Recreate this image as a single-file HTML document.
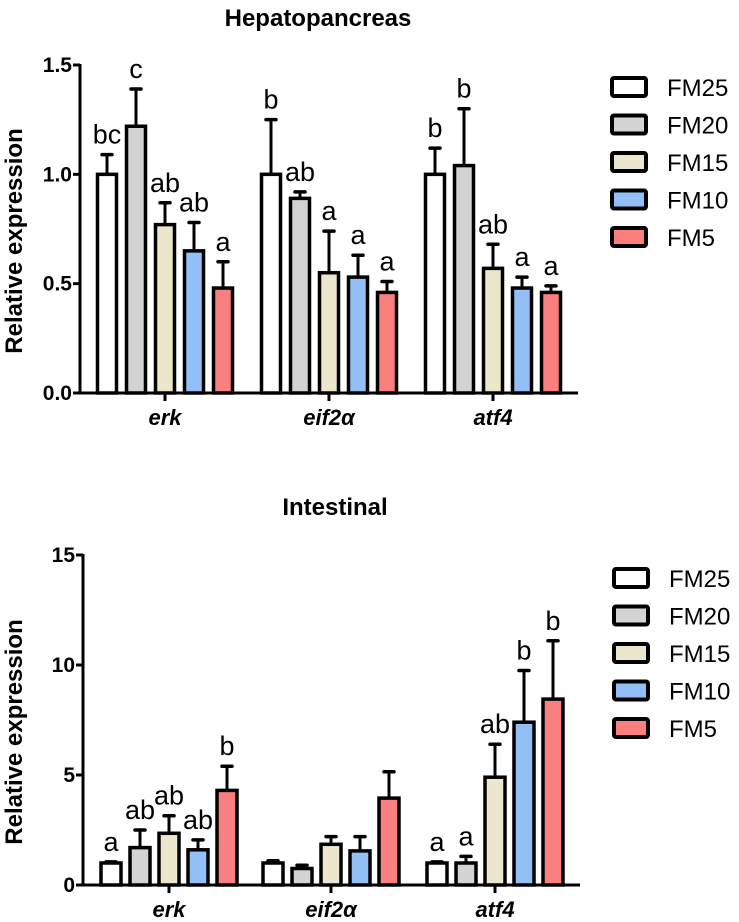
<!DOCTYPE html>
<html><head><meta charset="utf-8"><style>
body{margin:0;background:#fff;}
svg{display:block;font-family:"Liberation Sans",Arial,sans-serif;}
</style></head><body>
<svg id="fig" width="739" height="922" viewBox="0 0 739 922" xmlns="http://www.w3.org/2000/svg"></svg>
<script>
const genes = ["erk", "eif2α", "atf4"];
const groups = ["FM25", "FM20", "FM15", "FM10", "FM5"];
const colors = ["#ffffff", "#d3d3d3", "#ece6cc", "#92bff5", "#fa7f7f"];
const hepMeans = [[1.0, 1.22, 0.77, 0.65, 0.48], [1.0, 0.89, 0.55, 0.53, 0.46], [1.0, 1.04, 0.57, 0.48, 0.46]];
const hepErrs = [[0.09, 0.17, 0.10, 0.13, 0.12], [0.25, 0.03, 0.19, 0.10, 0.05], [0.12, 0.26, 0.11, 0.05, 0.03]];
const hepLetters = [["bc", "c", "ab", "ab", "a"], ["b", "ab", "a", "a", "a"], ["b", "b", "ab", "a", "a"]];
const hepTicks = [0, 0.5, 1.0, 1.5];
const hepTickLabels = ["0.0", "0.5", "1.0", "1.5"];
const intMeans = [[1.0, 1.7, 2.35, 1.6, 4.3], [1.0, 0.75, 1.85, 1.55, 3.95], [1.0, 1.0, 4.9, 7.4, 8.45]];
const intErrs = [[0.05, 0.8, 0.8, 0.45, 1.1], [0.1, 0.15, 0.35, 0.65, 1.2], [0.05, 0.3, 1.5, 2.35, 2.65]];
const intLetters = [["a", "ab", "ab", "ab", "b"], ["", "", "", "", ""], ["a", "a", "ab", "b", "b"]];
const intTicks = [0, 5, 10, 15];
const intTickLabels = ["0", "5", "10", "15"];

const NS = "http://www.w3.org/2000/svg";
const svg = document.getElementById("fig");
function mk(tag, attrs, parent, txt) {
  const e = document.createElementNS(NS, tag);
  for (const k in attrs) e.setAttribute(k, attrs[k]);
  if (txt !== undefined) e.textContent = txt;
  (parent || svg).appendChild(e);
  return e;
}

function drawChart(cfg) {
  const g = mk("g", {});
  
  
  const y = v => cfg.y0 - (v / cfg.ymax) * (cfg.y0 - cfg.yTop);
  const xCenter = (gi, si) => cfg.gx[gi] + (si - 2) * cfg.step;
  const t = mk("text", {x: cfg.titleX, y: cfg.titleY, "text-anchor": "middle", "font-size": 24, "font-weight": "bold"}, g, cfg.title);
  
  
  cfg.means.forEach((row, gi) => {
    row.forEach((m, si) => {
      const cx = xCenter(gi, si);
      const top = y(m), eTop = y(m + cfg.errs[gi][si]);
      const el = mk("line", {x1: cx, x2: cx, y1: top, y2: eTop, stroke: "#000", "stroke-width": 3}, g);
      
      
      const cap = mk("line", {x1: cx - 5, x2: cx + 5, y1: eTop, y2: eTop, stroke: "#000", "stroke-width": 3.5, "stroke-linecap": "round"}, g);
      
      
      const r = mk("rect", {x: cx - cfg.bw / 2, y: top, width: cfg.bw, height: cfg.y0 - top, fill: colors[si], stroke: "#000", "stroke-width": 3.5}, g);
      
      
      const L = cfg.letters[gi][si];
      if (L) {
        const lt = mk("text", {x: cx, y: eTop - 11, "text-anchor": "middle", "font-size": 27}, g, L);
        
        
      }
    });
    const tk = mk("line", {x1: cfg.gx[gi], x2: cfg.gx[gi], y1: cfg.y0, y2: cfg.y0 + 8, stroke: "#000", "stroke-width": 3}, g);
    
    
    const xl = mk("text", {x: cfg.gx[gi], y: cfg.y0 + 32, "text-anchor": "middle", "font-size": 22, "font-weight": "bold", "font-style": "italic"}, g, genes[gi]);
    
    
  });
  const ya = mk("line", {x1: cfg.ax, x2: cfg.ax, y1: cfg.yTop - 1, y2: cfg.y0 + 1.5, stroke: "#000", "stroke-width": 3}, g);
  
  
  const xa = mk("line", {x1: cfg.ax - 1.5, x2: cfg.axEnd, y1: cfg.y0, y2: cfg.y0, stroke: "#000", "stroke-width": 3}, g);
  
  
  cfg.ticks.forEach((tv, i) => {
    const ty = y(tv);
    const tl = mk("line", {x1: cfg.ax - 7, x2: cfg.ax, y1: ty, y2: ty, stroke: "#000", "stroke-width": 3}, g);
    
    
    const tt = mk("text", {x: cfg.ax - 8, y: ty + 7, "text-anchor": "end", "font-size": 21, "font-weight": "bold"}, g, cfg.tickLabels[i]);
    
    
  });
  const yt = mk("text", {x: 0, y: 0, "text-anchor": "middle", "font-size": 24, "font-weight": "bold", transform: "translate(" + cfg.ytX + "," + ((cfg.yTop + cfg.y0) / 2 + 12) + ") rotate(-90)"}, g, "Relative expression");
  
  
  groups.forEach((nm, i) => {
    const ly = cfg.legY + i * cfg.legStep;
    const lr = mk("rect", {x: cfg.legX, y: ly - 9, width: 34, height: 18, rx: 2, fill: colors[i], stroke: "#000", "stroke-width": 4}, g);
    
    
    const lt = mk("text", {x: cfg.legX + 55, y: ly + 9, "font-size": 24}, g, nm);
    
    
  });
}

drawChart({name: "hepatopancreas-chart", title: "Hepatopancreas", titleX: 318, titleY: 26,
  means: hepMeans, errs: hepErrs, letters: hepLetters, ticks: hepTicks, tickLabels: hepTickLabels,
  ymax: 1.5, y0: 393, yTop: 65, ax: 80, axEnd: 578, gx: [165, 329, 493], step: 29, bw: 19,
  ytX: 22, legX: 612, legY: 87, legStep: 37.5});
drawChart({name: "intestinal-chart", title: "Intestinal", titleX: 335, titleY: 515,
  means: intMeans, errs: intErrs, letters: intLetters, ticks: intTicks, tickLabels: intTickLabels,
  ymax: 15, y0: 885, yTop: 555, ax: 83, axEnd: 580, gx: [169, 331, 495], step: 29, bw: 20,
  ytX: 22, legX: 614, legY: 578, legStep: 37.5});
</script>
</body></html>
